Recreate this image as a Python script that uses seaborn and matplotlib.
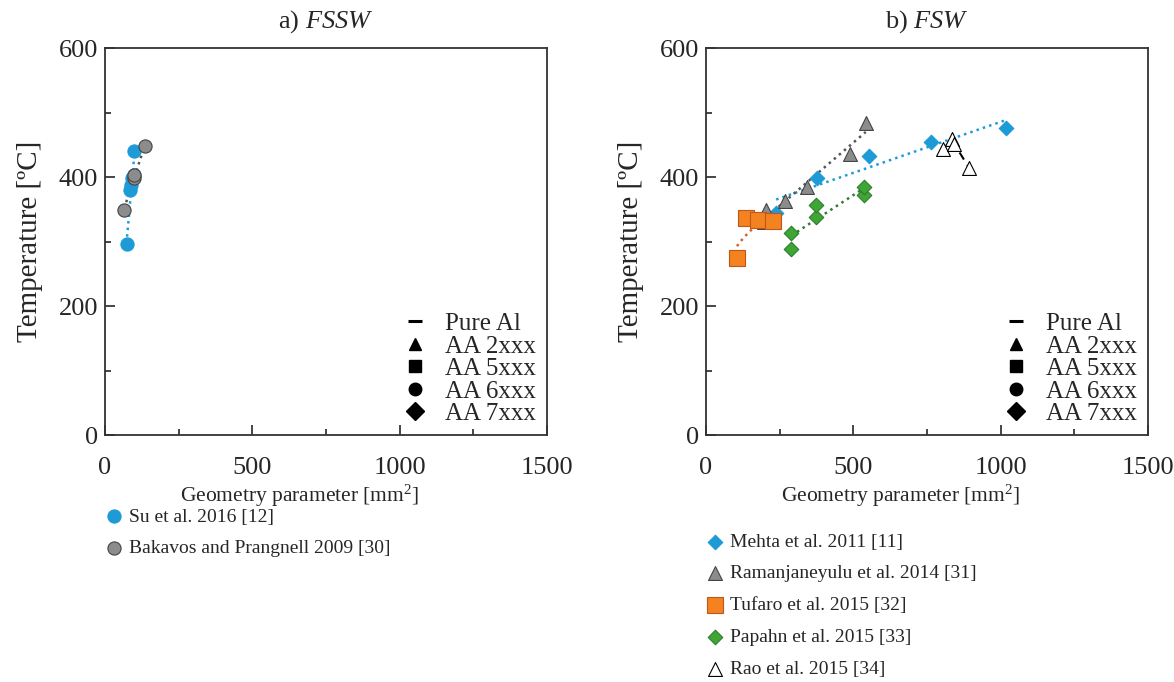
import numpy as np
import pandas as pd
import matplotlib
matplotlib.use("Agg")
import matplotlib.pyplot as plt
import seaborn as sns
from matplotlib.lines import Line2D
from matplotlib.ticker import MultipleLocator

# Data
# a) FSSW
su_x = [75, 85, 90, 93, 97, 100]
su_y = [296, 380, 388, 398, 404, 441]
bak_x = [65, 98, 100, 136]
bak_y = [349, 398, 404, 448]

# b) FSW
mehta_x = [238, 375, 552, 764, 1019]
mehta_y = [344, 398, 432, 454, 476]
raman_x = [195, 205, 269, 344, 488, 542]
raman_y = [330, 349, 363, 384, 436, 484]
tufaro_x = [105, 136, 178, 228]
tufaro_y = [274, 336, 333, 332]
papahn_x = [290, 290, 372, 372, 535, 535]
papahn_y = [288, 313, 338, 357, 372, 384]
rao_x = [804, 835, 843, 893]
rao_y = [443, 459, 451, 414]

alloy_labels = ["Pure Al", "AA 2xxx", "AA 5xxx", "AA 6xxx", "AA 7xxx"]
alloy_markers = ["_", "^", "s", "o", "D"]

sns.set_style("white")
plt.rcParams["font.family"] = ["Liberation Serif", "DejaVu Serif"]
plt.rcParams["mathtext.fontset"] = "custom"
plt.rcParams["mathtext.rm"] = "Liberation Serif"
plt.rcParams["mathtext.it"] = "Liberation Serif:italic"

fig = plt.figure(figsize=(11.74, 6.82), dpi=100)
ax1 = fig.add_axes([0.0894, 0.362, 0.3765, 0.5675])
ax2 = fig.add_axes([0.6014, 0.362, 0.3765, 0.5675])


def trend(ax, x, y, color, log=False):
    # spreadsheet-style trend line fitted to the points
    xs = np.linspace(min(x), max(x), 50)
    if log:
        c = np.polyfit(np.log(x), y, 1)
        ys = c[0] * np.log(xs) + c[1]
    else:
        c = np.polyfit(x, y, 1)
        ys = c[0] * xs + c[1]
    sns.lineplot(x=xs, y=ys, ax=ax, color=color, linestyle=":",
                 linewidth=1.8, legend=False)


def points(ax, x, y, marker, color, edge, size, label):
    sns.scatterplot(x=x, y=y, ax=ax, marker=marker, color=color,
                    edgecolor=edge, linewidth=0.8, s=size, label=label,
                    zorder=3)


blue = "#1e9bd7"
gray = "#8c8c8c"
orange = "#f58220"
green = "#3fa535"

# panel a
trend(ax1, su_x, su_y, blue)
trend(ax1, bak_x, bak_y, "#555555")
points(ax1, su_x, su_y, "o", blue, blue, 90, "Su et al. 2016 [12]")
points(ax1, bak_x, bak_y, "o", gray, "#444444", 90,
       "Bakavos and Prangnell 2009 [30]")

# panel b
trend(ax2, mehta_x, mehta_y, blue)
trend(ax2, raman_x, raman_y, "#555555")
trend(ax2, tufaro_x, tufaro_y, "#d2622a", log=True)
trend(ax2, papahn_x, papahn_y, "#2e7d32")
sns.lineplot(x=rao_x, y=rao_y, ax=ax2, color="black", linestyle=(0, (4, 3)),
             linewidth=1.5, legend=False, sort=False)
points(ax2, mehta_x, mehta_y, "D", blue, blue, 55, "Mehta et al. 2011 [11]")
points(ax2, raman_x, raman_y, "^", gray, "#444444", 100,
       "Ramanjaneyulu et al. 2014 [31]")
points(ax2, tufaro_x, tufaro_y, "s", orange, "#c0571a", 120,
       "Tufaro et al. 2015 [32]")
points(ax2, papahn_x, papahn_y, "D", green, "#2e7d32", 55,
       "Papahn et al. 2015 [33]")
points(ax2, rao_x, rao_y, "^", "white", "black", 100, "Rao et al. 2015 [34]")

panels = [(ax1, r"a) $\it{FSSW}$", -0.168), (ax2, r"b) $\it{FSW}$", -0.233)]
for ax, title, leg_y in panels:
    ax.set_xlim(0, 1500)
    ax.set_ylim(0, 600)
    ax.xaxis.set_major_locator(MultipleLocator(500))
    ax.xaxis.set_minor_locator(MultipleLocator(250))
    ax.yaxis.set_major_locator(MultipleLocator(200))
    ax.yaxis.set_minor_locator(MultipleLocator(100))
    ax.tick_params(which="both", direction="in", labelsize=19,
                   bottom=True, left=True)
    ax.tick_params(which="major", length=7, width=1.2)
    ax.tick_params(which="minor", length=4, width=1.2)
    ax.tick_params(axis="x", which="major", pad=16)
    ax.tick_params(axis="y", which="major", pad=5)
    for sp in ax.spines.values():
        sp.set_color("#333333")
        sp.set_linewidth(1.3)
    ax.set_title(title, fontsize=19, pad=15)
    ax.set_xlabel(r"Geometry parameter [mm$^2$]", fontsize=15.5)
    ax.xaxis.set_label_coords(0.439, -0.124)
    ax.set_ylabel("Temperature [ºC]", fontsize=21, labelpad=11)

    # dataset legend under the axes
    data_leg = ax.legend(loc="upper left", bbox_to_anchor=(-0.02, leg_y),
                         frameon=False, fontsize=14, handletextpad=0.3,
                         labelspacing=0.73, borderaxespad=0, handlelength=1.0)
    ax.add_artist(data_leg)

    # alloy marker legend inside the axes
    handles = [Line2D([], [], marker=m, color="black", linestyle="none",
                      markersize=9 if m != "_" else 10,
                      markeredgewidth=2.2 if m == "_" else 1)
               for m in alloy_markers]
    ax.legend(handles, alloy_labels, loc="lower right",
              bbox_to_anchor=(1.025, -0.032), frameon=False, fontsize=18,
              handletextpad=0.7, labelspacing=0.0, handlelength=1.0)

fig.savefig("out.png", dpi=100)
